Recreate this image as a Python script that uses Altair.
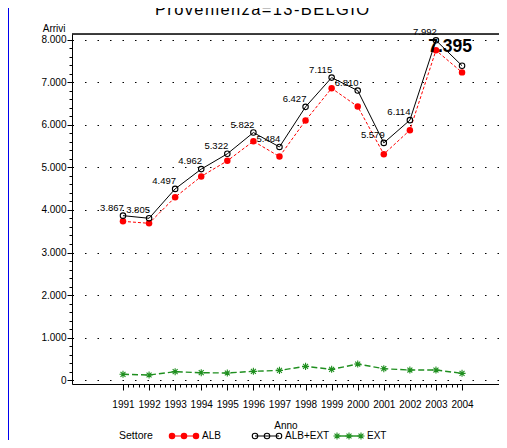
import altair as alt
import pandas as pd

# ---------------- data ----------------
years = list(range(1991, 2005))
alb_ext = [3867, 3805, 4497, 4962, 5322, 5822, 5484, 6427, 7115, 6810, 5579, 6114, 7992, 7395]
alb = [3733, 3687, 4301, 4790, 5157, 5618, 5257, 6106, 6864, 6434, 5313, 5879, 7757, 7238]
ext = [134, 118, 196, 172, 165, 204, 227, 321, 251, 376, 266, 235, 235, 157]
series_names = ["ALB", "ALB+EXT", "EXT"]
y_ticks = [0, 1000, 2000, 3000, 4000, 5000, 6000, 7000, 8000]
title_text = "Provenienza=13-BELGIO"
legend_title = "Settore"
x_title = "Anno"
y_title = "Arrivi"

# ---------------- layout / style ----------------
W, H = 427, 350
FONT = "Liberation Sans, Arial, sans-serif"
colors = {"ALB": "#ff0000", "ALB+EXT": "#000000", "EXT": "#1f8f1f"}
ASTER = "M-1,0L1,0M0,-1L0,1M-0.7,-0.7L0.7,0.7M-0.7,0.7L0.7,-0.7"

rows = []
for name, vals in zip(series_names, [alb, alb_ext, ext]):
    for yr, v in zip(years, vals):
        rows.append({"year": yr, "value": v, "series": name})
df = pd.DataFrame(rows)

xs = alt.Scale(domain=[1989.045, 2005.417], nice=False, zero=False)
ys = alt.Scale(domain=[-94, 8141], nice=False, zero=False)

minor_x = [round(1991 + i * 0.2, 2) for i in range(0, 66)]
minor_y = list(range(0, 8001, 200))


def X(axis=None):
    return alt.X("year:Q", scale=xs, axis=axis)


def Y(axis=None):
    return alt.Y("value:Q", scale=ys, axis=axis)


main_x_axis = alt.Axis(values=years, format="d", orient="bottom", labelFont=FONT, labelFontSize=10,
                       labelColor="black", tickSize=6, tickColor="black", domainColor="black",
                       labelPadding=9, grid=False, title=x_title, titleFont=FONT, titleFontSize=10,
                       titleFontWeight="normal", titleY=44, titleBaseline="alphabetic",
                       titleColor="black", labelFlush=False, labelOverlap=False)
main_y_axis = alt.Axis(values=y_ticks, orient="left",
                       labelExpr="replace(format(datum.value, ',d'), ',', '.')",
                       labelFont=FONT, labelFontSize=10, labelColor="black", tickSize=5,
                       tickColor="black", domainColor="black", labelPadding=1, grid=True,
                       gridColor="black", gridDash=[1.5, 11], gridWidth=1, gridOpacity=1,
                       title=y_title, titleAngle=0, titleAlign="right", titleX=-7, titleY=-3,
                       titleBaseline="alphabetic", titleFont=FONT, titleFontSize=10,
                       titleFontWeight="normal", titleColor="black", labelFlush=False,
                       labelOverlap=False)
axes_layer = alt.Chart(df).mark_point(opacity=0).encode(x=X(main_x_axis), y=Y(main_y_axis))

minor_axes = alt.Chart(df).mark_point(opacity=0).encode(
    x=X(alt.Axis(values=minor_x, orient="bottom", labels=False, domain=False, grid=False,
                 tickSize=3, tickColor="black", title=None)),
    y=Y(alt.Axis(values=minor_y, orient="left", labels=False, domain=False, grid=False,
                 tickSize=3, tickColor="black", title=None)),
)

layers = [axes_layer, minor_axes]

styles = {
    "EXT": dict(dash=[6, 3], sw=1.4, shape=ASTER, filled=False, size=50),
    "ALB": dict(dash=[3, 2], sw=1, shape="circle", filled=True, size=42),
    "ALB+EXT": dict(dash=None, sw=1, shape="circle", filled=False, size=30),
}

for name in ["EXT", "ALB", "ALB+EXT"]:
    st = styles[name]
    d = df[df.series == name]
    lkw = dict(color=colors[name], strokeWidth=st["sw"])
    if st["dash"]:
        lkw["strokeDash"] = st["dash"]
    layers.append(alt.Chart(d).mark_line(**lkw).encode(x=X(), y=Y()))
    layers.append(alt.Chart(d).mark_point(shape=st["shape"], filled=st["filled"], color=colors[name],
                                          size=st["size"], strokeWidth=1.1, opacity=1)
                  .encode(x=X(), y=Y()))

# data labels on ALB+EXT
lab_expr = "replace(format(datum.value, ',d'), ',', '.')"
d_tot = df[df.series == "ALB+EXT"]
layers.append(alt.Chart(d_tot).transform_filter(f"datum.year != {years[-1]}")
              .transform_calculate(lbl=lab_expr)
              .mark_text(font=FONT, fontSize=9.5, dx=-11, dy=-5, baseline="alphabetic",
                         align="center", color="black")
              .encode(x=X(), y=Y(), text="lbl:N"))
layers.append(alt.Chart(d_tot).transform_filter(f"datum.year == {years[-1]}")
              .transform_calculate(lbl=lab_expr)
              .mark_text(font=FONT, fontSize=17.5, fontWeight="bold", dx=-12, dy=-14,
                         baseline="alphabetic", align="center", color="black")
              .encode(x=X(), y=Y(), text="lbl:N"))

# frame top line
one = pd.DataFrame({"t": ["\u200a".join(list(title_text))]})
layers.append(alt.Chart(one).mark_rule(color="black", strokeWidth=1.3)
              .encode(x=alt.value(0), x2=alt.value(W), y=alt.value(0)))
# blue vertical line at the left edge
layers.append(alt.Chart(one).mark_rule(color="#0000ee", strokeWidth=2)
              .encode(x=alt.value(-64), y=alt.value(-30), y2=alt.value(420)))
# title
layers.append(alt.Chart(one).mark_text(font=FONT, fontSize=16.5, align="center", baseline="alphabetic",
                                       color="black")
              .encode(x=alt.value(190), y=alt.value(-19), text="t:N"))

# legend (built from series names)
leg_x0 = [100, 183, 265]
leg_y = 402
leg_rows = []
for i, s in enumerate(series_names):
    for k in range(3):
        leg_rows.append({"series": s, "lx": leg_x0[i] + 12 * k, "ly": leg_y})
leg_df = pd.DataFrame(leg_rows)
for i, name in enumerate(series_names):
    st = styles[name]
    d = leg_df[leg_df.series == name]
    lkw = dict(color=colors[name], strokeWidth=st["sw"])
    layers.append(alt.Chart(d).mark_line(**lkw).encode(
        x=alt.X("lx:Q", scale=None), y=alt.Y("ly:Q", scale=None)))
    layers.append(alt.Chart(d).mark_point(shape=st["shape"], filled=st["filled"], color=colors[name],
                                          size=st["size"], strokeWidth=1.1, opacity=1).encode(
        x=alt.X("lx:Q", scale=None), y=alt.Y("ly:Q", scale=None)))
    lt = pd.DataFrame({"name": [name]})
    layers.append(alt.Chart(lt).mark_text(font=FONT, fontSize=10, align="left", baseline="alphabetic",
                                          color="black")
                  .encode(x=alt.value(leg_x0[i] + 30), y=alt.value(leg_y + 3), text="name:N"))
lt = pd.DataFrame({"name": [legend_title]})
layers.append(alt.Chart(lt).mark_text(font=FONT, fontSize=10.5, align="left", baseline="alphabetic",
                                      color="black")
              .encode(x=alt.value(47), y=alt.value(leg_y + 3), text="name:N"))

chart = (alt.layer(*layers)
         .resolve_axis(x="independent", y="independent")
         .properties(width=W, height=H, autosize=alt.AutoSizeParams(type="none"),
                     padding={"left": 64, "top": 26, "right": 0, "bottom": 56})
         .configure_view(stroke=None)
         .configure(background="white"))

chart.save("out.html", embed_options={"renderer": "svg", "actions": False})
